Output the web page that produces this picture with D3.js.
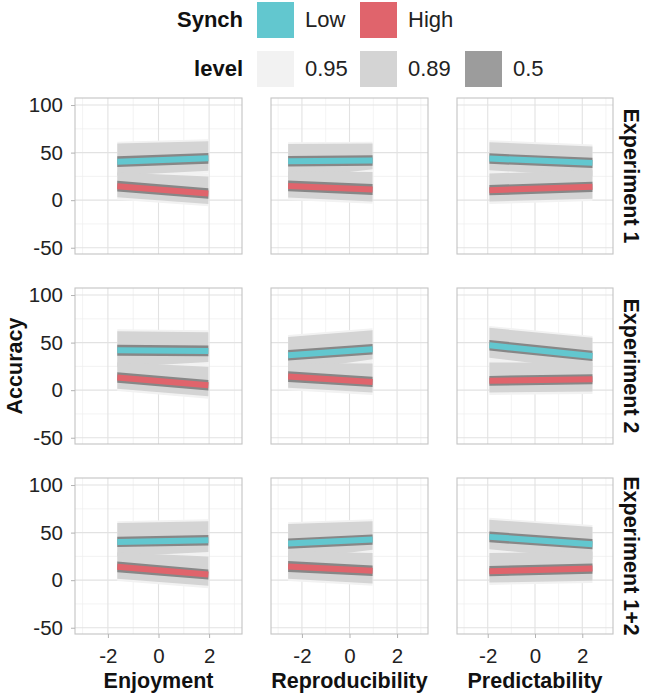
<!DOCTYPE html>
<html><head><meta charset="utf-8">
<script src="https://cdn.jsdelivr.net/npm/d3@7"></script>
<style>
html,body{margin:0;padding:0;background:#fff;}
svg{display:block;font-family:"Liberation Sans",Arial,sans-serif;}
</style></head>
<body><svg id="chart" width="645" height="694"></svg>
<script>
// ---------- data ----------
const experiments = ["Experiment 1", "Experiment 2", "Experiment 1+2"];
const predictors = ["Enjoyment", "Reproducibility", "Predictability"];
const synchLevels = ["Low", "High"];
const levelLabels = ["0.95", "0.89", "0.5"];
const yTicks = [-50, 0, 50, 100];
const xTicks = [-2, 0, 2];
// x extent of each predictor's fitted lines (column)
const xExtent = [[-1.63, 1.97], [-2.58, 0.97], [-1.93, 2.43]];

// panels in row-major order (experiment x predictor); each pair = [left end, right end]
const lowMid   = [[40.5,44],[40.9,41.6],[43.7,39.2],[42,41.3],[36.7,43],[47.2,36],[40.2,42],[38.5,42.7],[45.5,37.8]];
const highMid  = [[14.7,7],[15,11.2],[10.5,14],[13.3,5.2],[14.3,8.7],[9.8,11.5],[14,6],[14.3,9.8],[9.4,12.2]];
const lowHw50  = [[5.6,5.6],[5.5,5.5],[5.5,5.4],[5.8,5.6],[5.4,5.5],[5.6,5.4],[5.4,5.6],[5.4,5.4],[5.6,5.4]];
const highHw50 = [[5.6,5.6],[5.7,5.7],[5.4,5.4],[5.6,5.5],[5.6,5.4],[5.2,5.3],[5.6,5.2],[5.8,5.5],[5.4,5.4]];
const low89Lo  = [[26,31],[22,32.5],[31.5,25],[24,29.5],[20,32.5],[34,21],[25,29.5],[21,32],[32.5,22]];
const low89Hi  = [[59.5,62],[59,59.5],[61,56.5],[62,61],[56,63],[65.5,55],[60,62],[59,62],[63.5,56]];
const low95Lo  = [[23,28],[19,30],[29,22.5],[21.5,27],[17,30],[31.5,18.5],[22,27],[18.5,29.5],[30,19.5]];
const low95Hi  = [[61.5,64],[61,61.5],[63,58.5],[64,63],[58,65],[67.5,57],[62,64],[61,64],[65.5,58]];
const high89Lo = [[3,-4],[2.8,-1.5],[-1.5,1.5],[1.5,-6.5],[2.5,-2.5],[-2.5,-1.5],[1.5,-6],[1.5,-3.5],[-2.5,-0.5]];
const high89Hi = [[29,25],[30,29.5],[28,31.5],[29,24.5],[28.5,28],[29,29],[29,25],[30.5,28.5],[28.5,30]];
const high95Lo = [[0.5,-6.5],[0.3,-3.8],[-4,-1],[-1,-9],[0,-5],[-5,-4],[-1,-8.5],[-1,-6],[-5,-3]];
const high95Hi = [[31.5,27.5],[32.5,32],[30.5,34],[31.5,27],[31,30.5],[31.5,31.5],[31.5,27.5],[33,31],[31,32.5]];

// ---------- styles ----------
const synchColors = ["#62C7CF", "#E0646C"];
const levelColors = ["#F2F2F2", "#D4D4D4", "#9C9C9C"];
const band50Color = "#878787";

const svg = d3.select("#chart");
const colRanges = [[75, 242], [271, 428], [457, 613]];
const rowTops = [98, 288, 478];
const panelH = 156;
const fmt = d => String(d);

const xScales = colRanges.map(r => d3.scaleLinear().domain([-3.3, 3.3]).range(r));
const yScales = rowTops.map(t => d3.scaleLinear().domain([-56.6, 107.4]).range([t + panelH, t]));

function bandData(x, lo, hi) {
  return [{x: x[0], lo: lo[0], hi: hi[0]}, {x: x[1], lo: lo[1], hi: hi[1]}];
}

experiments.forEach((exp, r) => {
  predictors.forEach((pred, c) => {
    const i = r * 3 + c;
    const xs = xScales[c], ys = yScales[r];
    const g = svg.append("g");
    const [x0, x1] = colRanges[c];
    const top = rowTops[r];
    g.append("rect").attr("x", x0).attr("y", top).attr("width", x1 - x0).attr("height", panelH).attr("fill", "#fff");
    const yMinor = [-25, 25, 75], xMinor = [-3, -1, 1, 3];
    g.selectAll(".ymin").data(yMinor).join("line")
      .attr("x1", x0).attr("x2", x1).attr("y1", d => ys(d)).attr("y2", d => ys(d))
      .attr("stroke", "#EEEEEE").attr("stroke-width", 0.7);
    g.selectAll(".xmin").data(xMinor).join("line")
      .attr("y1", top).attr("y2", top + panelH).attr("x1", d => xs(d)).attr("x2", d => xs(d))
      .attr("stroke", "#EEEEEE").attr("stroke-width", 0.7);
    g.selectAll(".ymaj").data(yTicks).join("line")
      .attr("x1", x0).attr("x2", x1).attr("y1", d => ys(d)).attr("y2", d => ys(d))
      .attr("stroke", "#E2E2E2").attr("stroke-width", 1.1);
    g.selectAll(".xmaj").data(xTicks).join("line")
      .attr("y1", top).attr("y2", top + panelH).attr("x1", d => xs(d)).attr("x2", d => xs(d))
      .attr("stroke", "#E2E2E2").attr("stroke-width", 1.1);

    const area = d3.area().x(d => xs(d.x)).y0(d => ys(d.lo)).y1(d => ys(d.hi));
    const line = d3.line().x(d => xs(d.x)).y(d => ys(d.y));
    const xe = xExtent[c];
    const groups = [
      {mid: lowMid[i], hw: lowHw50[i], lo89: low89Lo[i], hi89: low89Hi[i], lo95: low95Lo[i], hi95: low95Hi[i], color: synchColors[0]},
      {mid: highMid[i], hw: highHw50[i], lo89: high89Lo[i], hi89: high89Hi[i], lo95: high95Lo[i], hi95: high95Hi[i], color: synchColors[1]}
    ];
    groups.forEach(gr => g.append("path").datum(bandData(xe, gr.lo95, gr.hi95)).attr("d", area).attr("fill", levelColors[0]));
    groups.forEach(gr => g.append("path").datum(bandData(xe, gr.lo89, gr.hi89)).attr("d", area).attr("fill", levelColors[1]));
    groups.forEach(gr => g.append("path")
      .datum(bandData(xe, [gr.mid[0] - gr.hw[0], gr.mid[1] - gr.hw[1]], [gr.mid[0] + gr.hw[0], gr.mid[1] + gr.hw[1]]))
      .attr("d", area).attr("fill", band50Color));
    groups.forEach(gr => g.append("path")
      .datum([{x: xe[0], y: gr.mid[0]}, {x: xe[1], y: gr.mid[1]}])
      .attr("d", line).attr("fill", "none").attr("stroke", gr.color).attr("stroke-width", 6));
    g.append("rect").attr("x", x0).attr("y", top).attr("width", x1 - x0).attr("height", panelH)
      .attr("fill", "none").attr("stroke", "#C4C4C4").attr("stroke-width", 1.1);

    if (c === 0) {
      const ax = svg.append("g").attr("transform", `translate(${x0},0)`)
        .call(d3.axisLeft(ys).tickValues(yTicks).tickSize(4).tickPadding(8).tickFormat(fmt));
      ax.select(".domain").remove();
      ax.selectAll("line").attr("stroke", "#B3B3B3");
      ax.selectAll("text").attr("font-size", 20.5).attr("fill", "#222").attr("font-family", "Liberation Sans, Arial, sans-serif");
    }
    if (r === 2) {
      const ax = svg.append("g").attr("transform", `translate(0,${top + panelH})`)
        .call(d3.axisBottom(xs).tickValues(xTicks).tickSize(4).tickPadding(10).tickFormat(fmt));
      ax.select(".domain").remove();
      ax.selectAll("line").attr("stroke", "#B3B3B3");
      ax.selectAll("text").attr("font-size", 20.5).attr("fill", "#222").attr("font-family", "Liberation Sans, Arial, sans-serif");
      svg.append("text").attr("x", (x0 + x1) / 2).attr("y", 688).attr("text-anchor", "middle")
        .attr("font-size", 21.5).attr("font-weight", "bold").attr("fill", "#111").text(pred);
    }
  });
  svg.append("text").attr("transform", `translate(624,${rowTops[r] + panelH / 2}) rotate(90)`)
    .attr("text-anchor", "middle").attr("font-size", 21.5).attr("font-weight", "bold").attr("fill", "#111").text(exp);
});

svg.append("text").attr("transform", `translate(22,366) rotate(-90)`).attr("text-anchor", "middle")
  .attr("font-size", 21.5).attr("font-weight", "bold").attr("fill", "#111").text("Accuracy");

// ---------- legend ----------
const lg = svg.append("g");
const swX = [257, 360, 465];
lg.append("text").attr("x", 243).attr("y", 27).attr("text-anchor", "end").attr("font-size", 22).attr("font-weight", "bold").attr("fill", "#111").text("Synch");
synchLevels.forEach((s, k) => {
  lg.append("rect").attr("x", swX[k]).attr("y", 2).attr("width", 37).attr("height", 36).attr("fill", synchColors[k]);
  lg.append("text").attr("x", swX[k] + 48).attr("y", 27).attr("font-size", 22).attr("fill", "#222").text(s);
});
lg.append("text").attr("x", 243).attr("y", 76).attr("text-anchor", "end").attr("font-size", 22).attr("font-weight", "bold").attr("fill", "#111").text("level");
levelLabels.forEach((s, k) => {
  lg.append("rect").attr("x", swX[k]).attr("y", 51).attr("width", 37).attr("height", 36).attr("fill", levelColors[k]);
  lg.append("text").attr("x", swX[k] + 48).attr("y", 76).attr("font-size", 22).attr("fill", "#222").text(s);
});
</script></body></html>
